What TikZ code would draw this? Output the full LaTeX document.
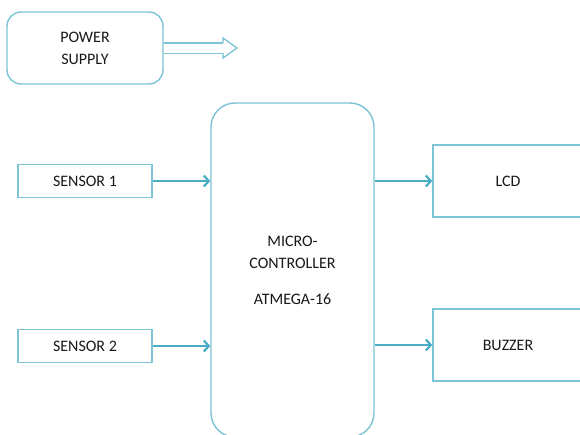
\documentclass[tikz,border=0pt]{standalone}
\usepackage{fontspec}
\setmainfont{Carlito}
\usetikzlibrary{arrows.meta,calc}
\definecolor{boxblue}{HTML}{7CC4D6}
\definecolor{linkblue}{HTML}{4BACC6}
\tikzset{
  block outline/.style={draw=boxblue,line width=1.4pt,fill=white},
  block label/.style={font=\fontsize{16}{22}\selectfont,text=black!90,align=center},
  sig arrow/.style={draw=linkblue,line width=2.2pt,-{Straight Barb[length=5pt,width=11pt]}},
  power arrow/.style={draw=boxblue,double=white,line width=1.3pt,double distance=9pt},
  power head/.style={draw=boxblue,line width=1.3pt,line join=miter}
}

\begin{document}
\begin{tikzpicture}[x=1pt,y=-1pt]
        \clip (0,0) rectangle (580,434);

        % supply block and its hollow output arrow
        \node[block outline,block label,rounded corners=14pt,minimum width=156pt,minimum height=72pt] (power) at (85,48) {POWER\\SUPPLY};
        \coordinate (pwrneck) at (223,48);
        \coordinate (pwrtip) at (237,48);
        \draw[power arrow] (power.east) -- (pwrneck);
        \fill[white] ($(pwrneck)+(0,-10)$) -- (pwrtip) -- ($(pwrneck)+(0,10)$) -- cycle;
        \draw[power head] ($(pwrneck)+(0,-5.2)$) -- ($(pwrneck)+(0,-10)$) -- (pwrtip)
          -- ($(pwrneck)+(0,10)$) -- ($(pwrneck)+(0,5.2)$);

        % controller in the middle
        \node[block outline,block label,rounded corners=24pt,minimum width=163pt,minimum height=334pt] (mcu) at (292.5,270) {MICRO-\\CONTROLLER\\[14pt]ATMEGA-16};

        % inputs
        \node[block outline,block label,minimum width=134pt,minimum height=33pt] (sensor1) at (85,181) {SENSOR 1};
        \node[block outline,block label,minimum width=134pt,minimum height=33pt] (sensor2) at (85,346) {SENSOR 2};

        % outputs
        \node[block outline,block label,minimum width=150pt,minimum height=72pt] (lcd) at (508,181) {LCD};
        \node[block outline,block label,minimum width=150pt,minimum height=72pt] (buzzer) at (508,345) {BUZZER};

        \draw[sig arrow] (sensor1.east) -- (mcu.west |- sensor1.east);
        \draw[sig arrow] (sensor2.east) -- (mcu.west |- sensor2.east);
        \draw[sig arrow] (mcu.east |- lcd.west) -- (lcd.west);
        \draw[sig arrow] (mcu.east |- buzzer.west) -- (buzzer.west);
      \end{tikzpicture}
\end{document}
